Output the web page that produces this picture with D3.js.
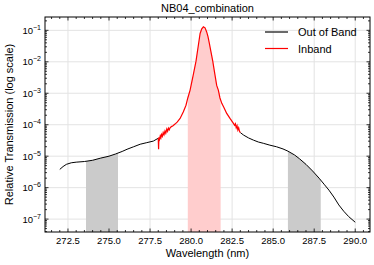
<!DOCTYPE html>
<html>
<head>
<meta charset="utf-8">
<script src="https://cdn.jsdelivr.net/npm/d3@7"></script>
<style>
  body { margin: 0; background: #fff; }
  svg text { font-family: "Liberation Sans", Arial, sans-serif; fill: #000; }
</style>
</head>
<body>
<div id="chart"></div>
<script>
// wavelengths (nm) and log10 transmission
let outLeftX = [272.0, 272.2, 272.4, 272.7, 273.0, 273.5, 274.0, 274.5, 275.0, 275.4, 275.8, 276.1, 276.5, 276.9, 277.3, 277.7, 278.0];
let outLeftY = [-5.42, -5.33, -5.26, -5.21, -5.19, -5.17, -5.13, -5.06, -5.0, -4.93, -4.85, -4.78, -4.70, -4.62, -4.57, -4.52, -4.43];
let outRightX = [283.0, 283.2, 283.5, 283.8, 284.1, 284.4, 284.8, 285.2, 285.6, 285.9, 286.3, 286.6, 287.0, 287.4, 287.8, 288.1, 288.4, 288.7, 289.0, 289.3, 289.6, 290.0];
let outRightY = [-4.25, -4.33, -4.42, -4.49, -4.55, -4.59, -4.65, -4.70, -4.77, -4.84, -4.96, -5.08, -5.26, -5.47, -5.70, -5.89, -6.08, -6.30, -6.55, -6.75, -6.92, -7.10];
let inX = [278.0, 278.02, 278.04, 278.08, 278.12, 278.16, 278.2, 278.25, 278.3, 278.35, 278.41, 278.46, 278.52, 278.57, 278.62, 278.67, 278.72, 278.8, 278.9, 279.02, 279.15, 279.33, 279.53, 279.69, 279.8, 279.94, 280.12, 280.3, 280.45, 280.55, 280.65, 280.75, 280.85, 280.95, 281.03, 281.11, 281.2, 281.32, 281.45, 281.56, 281.66, 281.76, 281.87, 282.0, 282.17, 282.37, 282.57, 282.65, 282.7, 282.75, 282.8, 282.85, 282.9, 282.95, 283.0];
let inY = [-4.43, -4.78, -4.40, -4.46, -4.36, -4.42, -4.31, -4.37, -4.25, -4.32, -4.20, -4.27, -4.14, -4.21, -4.11, -4.16, -4.10, -4.06, -4.03, -3.98, -3.92, -3.80, -3.59, -3.38, -3.15, -2.90, -2.45, -1.98, -1.45, -1.10, -0.95, -0.886, -0.92, -1.05, -1.20, -1.41, -1.65, -1.98, -2.40, -2.75, -2.90, -3.15, -3.32, -3.45, -3.64, -3.80, -3.95, -4.02, -3.97, -4.10, -4.03, -4.17, -4.10, -4.21, -4.25];
let grayBands = [[273.6, 275.55], [285.9, 287.9]];
let pinkBand = [279.8, 281.8];
let xTicks = [272.5, 275.0, 277.5, 280.0, 282.5, 285.0, 287.5, 290.0];
let yTicks = [-1, -2, -3, -4, -5, -6, -7];

let width = 374, height = 265;
let m = {left: 45, right: 4, top: 17, bottom: 33};

let svg = d3.select('#chart').append('svg')
    .attr('width', width)
    .attr('height', height);

let x = d3.scaleLinear().domain([271.1, 290.9]).range([m.left, width - m.right]);
let y = d3.scaleLog().domain([Math.pow(10, -7.41), Math.pow(10, -0.576)]).range([height - m.bottom, m.top]);

let toPts = (xs, ys) => xs.map((v, i) => ({x: v, y: Math.pow(10, ys[i])}));
let outLeft = toPts(outLeftX, outLeftY);
let outRight = toPts(outRightX, outRightY);
let inband = toPts(inX, inY);

let line = d3.line().x(d => x(d.x)).y(d => y(d.y));
let area = d3.area().x(d => x(d.x)).y0(y.range()[0]).y1(d => y(d.y));

// grid
let g = svg.append('g');
g.selectAll('.gx').data(xTicks).enter().append('line')
    .attr('x1', d => x(d)).attr('x2', d => x(d))
    .attr('y1', m.top).attr('y2', height - m.bottom)
    .attr('stroke', '#e3e3e3').attr('stroke-width', 1);
g.selectAll('.gy').data(yTicks).enter().append('line')
    .attr('x1', m.left).attr('x2', width - m.right)
    .attr('y1', d => y(Math.pow(10, d))).attr('y2', d => y(Math.pow(10, d)))
    .attr('stroke', '#e3e3e3').attr('stroke-width', 1);

// shaded bands, clipped under the curves
let defs = svg.append('defs');
function band(id, range, pts, color) {
    defs.append('clipPath').attr('id', id).append('rect')
        .attr('x', x(range[0])).attr('width', x(range[1]) - x(range[0]))
        .attr('y', m.top).attr('height', height - m.bottom - m.top);
    svg.append('path').datum(pts)
        .attr('clip-path', 'url(#' + id + ')')
        .attr('fill', color)
        .attr('d', area);
}
band('c0', grayBands[0], outLeft, '#cbcbcb');
band('c1', grayBands[1], outRight, '#cbcbcb');
band('c2', pinkBand, inband, '#ffcdcd');

svg.append('path').datum(outLeft).attr('fill', 'none').attr('stroke', '#000').attr('stroke-width', 1).attr('d', line);
svg.append('path').datum(outRight).attr('fill', 'none').attr('stroke', '#000').attr('stroke-width', 1).attr('d', line);
svg.append('path').datum(inband).attr('fill', 'none').attr('stroke', '#f00').attr('stroke-width', 1.2).attr('d', line);

// frame and ticks
let b = height - m.bottom, r = width - m.right;
svg.append('rect').attr('x', m.left).attr('y', m.top)
    .attr('width', r - m.left).attr('height', b - m.top)
    .attr('fill', 'none').attr('stroke', '#000').attr('stroke-width', 1);

let xMinor = d3.range(271.5, 291, 0.5).filter(v => x(v) > m.left && x(v) < r);
let yMinor = [];
for (let e = -8; e <= 0; e++) {
    for (let k = 2; k <= 9; k++) {
        let v = k * Math.pow(10, e);
        if (y(v) < b && y(v) > m.top) yMinor.push(v);
    }
}
let tk = svg.append('g').attr('stroke', '#000').attr('stroke-width', 0.8);
xMinor.forEach(v => {
    let big = xTicks.indexOf(v) >= 0;
    let l = big ? 3.5 : 2;
    tk.append('line').attr('x1', x(v)).attr('x2', x(v)).attr('y1', b).attr('y2', b - l);
    tk.append('line').attr('x1', x(v)).attr('x2', x(v)).attr('y1', m.top).attr('y2', m.top + l);
});
yTicks.forEach(d => {
    let yy = y(Math.pow(10, d));
    tk.append('line').attr('x1', m.left).attr('x2', m.left + 3.5).attr('y1', yy).attr('y2', yy);
    tk.append('line').attr('x1', r).attr('x2', r - 3.5).attr('y1', yy).attr('y2', yy);
});
yMinor.forEach(v => {
    let yy = y(v);
    tk.append('line').attr('x1', m.left).attr('x2', m.left + 2).attr('y1', yy).attr('y2', yy);
    tk.append('line').attr('x1', r).attr('x2', r - 2).attr('y1', yy).attr('y2', yy);
});

// tick labels
svg.selectAll('.xl').data(xTicks).enter().append('text')
    .attr('x', d => x(d)).attr('y', b + 12)
    .attr('text-anchor', 'middle').attr('font-size', 9.5)
    .text(d => d.toFixed(1));
let yl = svg.selectAll('.yl').data(yTicks).enter().append('text')
    .attr('x', m.left - 4).attr('y', d => y(Math.pow(10, d)) + 3.5)
    .attr('text-anchor', 'end').attr('font-size', 9.5);
yl.append('tspan').text('10');
yl.append('tspan').attr('dy', -4).attr('font-size', 7).text(d => '\u2212' + Math.abs(d));

// titles
svg.append('text').attr('x', (m.left + r) / 2).attr('y', 11.5)
    .attr('text-anchor', 'middle').attr('font-size', 11).text('NB04_combination');
svg.append('text').attr('x', (m.left + r) / 2).attr('y', 257)
    .attr('text-anchor', 'middle').attr('font-size', 11).text('Wavelength (nm)');
svg.append('text').attr('transform', 'translate(13,' + ((m.top + b) / 2) + ') rotate(-90)')
    .attr('text-anchor', 'middle').attr('font-size', 11).text('Relative Transmission (log scale)');

// legend
let legend = [['Out of Band', '#444', 1.6], ['Inband', '#f00', 1.2]];
legend.forEach((d, i) => {
    let ly = 32 + i * 16.5;
    svg.append('line').attr('x1', 265).attr('x2', 288).attr('y1', ly).attr('y2', ly)
        .attr('stroke', d[1]).attr('stroke-width', d[2]);
    svg.append('text').attr('x', 298).attr('y', ly + 4).attr('font-size', 11).text(d[0]);
});
</script>
</body>
</html>
